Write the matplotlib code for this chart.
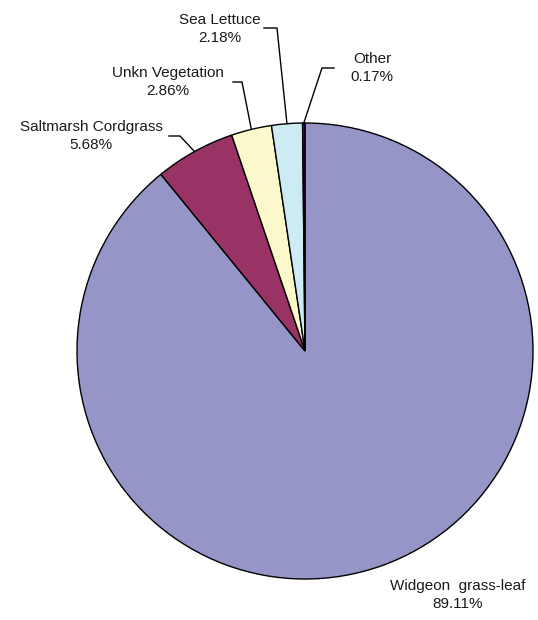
import numpy as np
import matplotlib.pyplot as plt

plt.rcParams['font.family'] = ['Liberation Sans', 'DejaVu Sans']

# Datos
categorias = ['Widgeon  grass-leaf', 'Saltmarsh Cordgrass', 'Unkn Vegetation', 'Sea Lettuce', 'Other']
porcentajes = [89.11, 5.68, 2.86, 2.18, 0.17]
colores = ['#9595c8', '#993366', '#fbf8cc', '#cdebf3', '#660066']

# posiciones de etiquetas (pixeles, y hacia abajo)
H = 620
centro = (305, H - 351)
radio = 228
texto_pos = [(458, 595), (91, 136), (168, 82), (220, 29), (372, 68)]
codo = [None, (180, 136), (242, 82), (277, 28), (322, 68)]
ext_texto = [None, (169, 136), (233, 82), (264, 28), (334, 68)]

fig = plt.figure(figsize=(5.38, 6.2), dpi=100)
ax = fig.add_axes([0, 0, 1, 1])

wedges, _ = ax.pie(porcentajes, colors=colores, startangle=90, counterclock=False,
                   center=centro, radius=radio, frame=True,
                   wedgeprops=dict(edgecolor='black', linewidth=1.0))
ax.set_xlim(0, 538)
ax.set_ylim(0, H)
ax.set_aspect('equal')
ax.axis('off')

for i, w in enumerate(wedges):
    etiqueta = f'{categorias[i]}\n{porcentajes[i]:.2f}%'
    tx, ty = texto_pos[i]
    ax.text(tx, H - ty, etiqueta, ha='center', va='center', fontsize=11,
            linespacing=1.35, color='#1a1a1a')
    if codo[i] is not None:
        ang = np.deg2rad((w.theta1 + w.theta2) / 2)
        px = centro[0] + radio * np.cos(ang)
        py = centro[1] + radio * np.sin(ang)
        cx, cy = codo[i]
        ex, ey = ext_texto[i]
        ax.plot([px, cx, ex], [py, H - cy, H - ey], color='black', linewidth=1.0)

fig.savefig('out.png', dpi=100)
